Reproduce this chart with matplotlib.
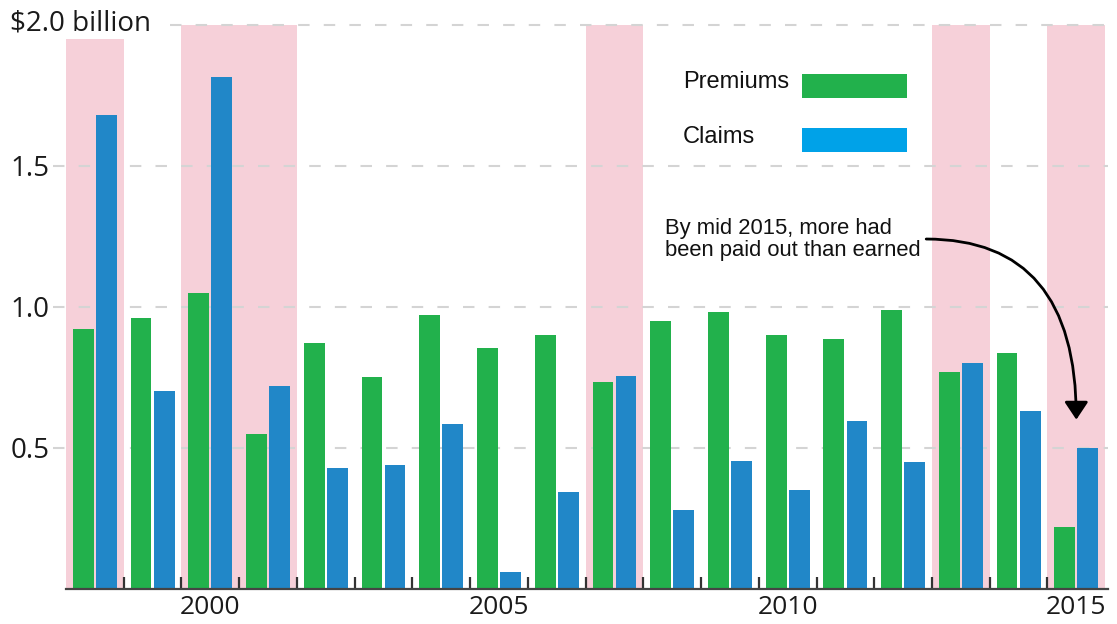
import matplotlib
matplotlib.use("Agg")
import matplotlib.pyplot as plt
from matplotlib.patches import Rectangle
import numpy as np

# values, $ billion
years = np.arange(1998, 2016)
premiums = [0.92, 0.96, 1.05, 0.55, 0.87, 0.75, 0.97, 0.855, 0.90, 0.735,
            0.95, 0.98, 0.90, 0.885, 0.99, 0.77, 0.835, 0.22]
claims = [1.68, 0.70, 1.815, 0.72, 0.43, 0.44, 0.585, 0.06, 0.345, 0.755,
          0.28, 0.455, 0.35, 0.595, 0.45, 0.80, 0.63, 0.50]

# shaded years and the height of their band
shade_years = [1998, 2000, 2001, 2007, 2013, 2015]
shade_tops = [1.95, 2.0, 2.0, 2.0, 2.0, 2.0]

ytick_vals = [0.5, 1.0, 1.5]
ytick_labels = ["0.5", "1.0", "1.5"]
xtick_vals = [2000, 2005, 2010, 2015]

GREEN = "#22b14c"
BLUE = "#2187c8"
BLUE_KEY = "#00a2e8"
PINK = "#f6d0d9"
GRID = "#d4d4d4"

fig = plt.figure(figsize=(11.17, 6.24), dpi=100)
ax = fig.add_axes([0.0591, 0.0561, 0.9329, 0.9046])

ax.bar(shade_years, shade_tops, width=1.0, color=PINK, zorder=0, linewidth=0)

bw = 0.36
ax.bar(years - 0.2, premiums, width=bw, color=GREEN, zorder=3, linewidth=0)
ax.bar(years + 0.2, claims, width=bw, color=BLUE, zorder=3, linewidth=0)

ax.set_xlim(1997.5, 2015.55)
ax.set_ylim(0, 2.0)

# dashed grid, the top one stops short of the unit label
dash = (0, (5.5, 6.8))
for v in ytick_vals:
    ax.axhline(v, xmin=-0.0125, xmax=1.0, color=GRID, lw=1.5, ls=dash,
               zorder=1, clip_on=False)
ax.axhline(2.0, xmin=0.10, xmax=1.0, color=GRID, lw=1.5, ls=dash,
           zorder=1, clip_on=False)

for s in ["top", "left", "right"]:
    ax.spines[s].set_visible(False)
ax.spines["bottom"].set_color("#444444")
ax.spines["bottom"].set_linewidth(1.6)
ax.spines["bottom"].set_zorder(5)

tick_font = dict(family="Open Sans", size=20, color="#1a1a1a")
ax.set_yticks(ytick_vals)
ax.set_yticklabels(ytick_labels, **tick_font)
ax.tick_params(axis="y", length=0, pad=12)

ax.set_xticks(xtick_vals)
ax.set_xticklabels([str(v) for v in xtick_vals], family="Open Sans", size=19,
                   color="#1a1a1a")
ax.set_xticks(np.arange(1998.5, 2015, 1.0), minor=True)
ax.tick_params(axis="x", which="major", length=0, pad=4.5)
ax.tick_params(axis="x", which="minor", direction="in", length=9, width=1.6,
               color="#333333")
for t in ax.xaxis.get_minorticklines():
    t.set_zorder(6)

fig.text(10 / 1117, 1 - 24 / 624, "$2.0 billion", ha="left", va="center",
         **tick_font)

# key: text on the left, swatch on the right
key_font = dict(family="Liberation Sans", size=17, color="#111111")
ax.text(0.592, 0.898, "Premiums", transform=ax.transAxes, ha="left",
        va="center", **key_font)
ax.text(0.592, 0.801, "Claims", transform=ax.transAxes, ha="left",
        va="center", **key_font)
ax.add_patch(Rectangle((0.706, 0.870), 0.1008, 0.0425, transform=ax.transAxes,
                       color=GREEN, zorder=4, linewidth=0))
ax.add_patch(Rectangle((0.706, 0.774), 0.1008, 0.0425, transform=ax.transAxes,
                       color=BLUE_KEY, zorder=4, linewidth=0))

ax.text(0.575, 0.658, "By mid 2015, more had\nbeen paid out than earned",
        transform=ax.transAxes, ha="left", va="top", linespacing=1.1,
        family="Liberation Sans", size=15.8, color="#111111", zorder=6)
ax.annotate("", xy=(2015.0, 0.60), xytext=(2012.4, 1.24),
            arrowprops=dict(arrowstyle="-|>,head_length=0.6,head_width=0.4",
                            connectionstyle="angle3,angleA=0,angleB=90",
                            color="black", lw=2, mutation_scale=18,
                            shrinkA=0, shrinkB=0),
            zorder=6)

fig.savefig("out.png", dpi=100)
